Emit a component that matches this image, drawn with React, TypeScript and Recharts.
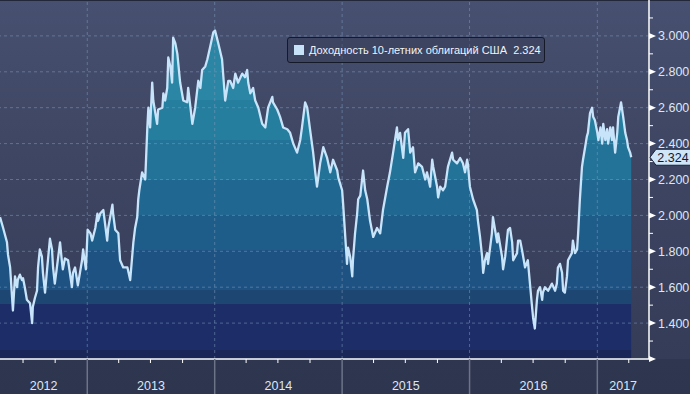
import { ComposedChart, Area, Line, XAxis, YAxis, ReferenceLine } from "recharts";

type Pt = [string, number];

// US 10y yield
const yields2012: Pt[] = [
  ["2012-04-26", 1.99], ["2012-05-05", 1.93], ["2012-05-16", 1.85], ["2012-05-19", 1.78],
  ["2012-05-25", 1.71], ["2012-06-02", 1.47], ["2012-06-08", 1.66], ["2012-06-14", 1.6],
  ["2012-06-16", 1.64], ["2012-06-22", 1.67], ["2012-06-28", 1.64], ["2012-07-01", 1.65],
  ["2012-07-06", 1.6], ["2012-07-12", 1.53], ["2012-07-21", 1.51], ["2012-07-27", 1.4],
  ["2012-07-29", 1.49], ["2012-08-04", 1.54], ["2012-08-10", 1.58], ["2012-08-13", 1.71],
  ["2012-08-18", 1.81], ["2012-08-24", 1.77], ["2012-08-27", 1.68], ["2012-09-02", 1.57],
  ["2012-09-07", 1.68], ["2012-09-16", 1.87], ["2012-09-22", 1.81], ["2012-09-25", 1.71],
  ["2012-09-30", 1.62], ["2012-10-06", 1.71], ["2012-10-15", 1.85], ["2012-10-20", 1.75],
  ["2012-10-23", 1.7], ["2012-10-29", 1.76], ["2012-11-07", 1.75], ["2012-11-18", 1.6],
  ["2012-11-21", 1.68], ["2012-11-27", 1.71], ["2012-12-05", 1.61], ["2012-12-17", 1.75],
  ["2012-12-20", 1.81], ["2012-12-28", 1.7],
];

const yields2013: Pt[] = [
  ["2013-01-02", 1.92], ["2013-01-10", 1.9], ["2013-01-15", 1.86], ["2013-01-24", 1.93],
  ["2013-01-30", 2.01], ["2013-02-01", 1.97], ["2013-02-07", 2.01], ["2013-02-16", 2.03],
  ["2013-02-27", 1.86], ["2013-03-02", 1.93], ["2013-03-14", 2.06], ["2013-03-16", 2.01],
  ["2013-03-22", 1.92], ["2013-03-31", 1.9], ["2013-04-05", 1.75], ["2013-04-14", 1.71],
  ["2013-04-26", 1.71], ["2013-05-04", 1.64], ["2013-05-13", 1.85], ["2013-05-18", 1.93],
  ["2013-05-24", 1.99], ["2013-05-27", 2.09], ["2013-05-30", 2.14], ["2013-06-07", 2.24],
  ["2013-06-16", 2.2], ["2013-06-22", 2.49], ["2013-06-25", 2.6], ["2013-06-30", 2.49],
  ["2013-07-06", 2.74], ["2013-07-09", 2.64], ["2013-07-20", 2.51], ["2013-07-23", 2.59],
  ["2013-08-04", 2.6], ["2013-08-07", 2.68], ["2013-08-12", 2.64], ["2013-08-18", 2.71],
  ["2013-08-21", 2.88], ["2013-08-27", 2.83], ["2013-09-01", 2.74], ["2013-09-04", 2.99],
  ["2013-09-10", 2.96], ["2013-09-16", 2.9], ["2013-09-24", 2.74], ["2013-10-03", 2.64],
  ["2013-10-14", 2.63], ["2013-10-17", 2.71], ["2013-10-29", 2.51], ["2013-11-06", 2.6],
  ["2013-11-15", 2.75], ["2013-11-21", 2.71], ["2013-11-26", 2.81], ["2013-12-05", 2.83],
  ["2013-12-11", 2.87], ["2013-12-19", 2.94], ["2013-12-28", 3.02],
];

const yields2014: Pt[] = [
  ["2014-01-02", 3.03], ["2014-01-11", 2.96], ["2014-01-22", 2.87], ["2014-01-31", 2.64],
  ["2014-02-09", 2.75], ["2014-02-14", 2.75], ["2014-02-23", 2.71], ["2014-03-01", 2.79],
  ["2014-03-09", 2.74], ["2014-03-21", 2.79], ["2014-03-29", 2.77], ["2014-04-04", 2.81],
  ["2014-04-07", 2.74], ["2014-04-13", 2.68], ["2014-04-21", 2.71], ["2014-04-27", 2.64],
  ["2014-05-06", 2.6], ["2014-05-17", 2.51], ["2014-05-26", 2.49], ["2014-06-03", 2.6],
  ["2014-06-15", 2.66], ["2014-06-17", 2.63], ["2014-06-29", 2.59], ["2014-07-07", 2.55],
  ["2014-07-16", 2.49], ["2014-07-28", 2.48], ["2014-08-05", 2.46], ["2014-08-14", 2.4],
  ["2014-08-25", 2.35], ["2014-09-03", 2.42], ["2014-09-08", 2.49], ["2014-09-17", 2.63],
  ["2014-09-23", 2.6], ["2014-10-01", 2.48], ["2014-10-10", 2.35], ["2014-10-16", 2.24],
  ["2014-10-21", 2.16], ["2014-10-30", 2.29], ["2014-11-08", 2.38], ["2014-11-19", 2.32],
  ["2014-11-28", 2.24], ["2014-12-06", 2.31], ["2014-12-18", 2.25], ["2014-12-21", 2.21],
];

const yields2015: Pt[] = [
  ["2015-01-01", 2.14], ["2015-01-04", 2.06], ["2015-01-10", 1.88], ["2015-01-15", 1.73],
  ["2015-01-18", 1.82], ["2015-01-24", 1.77], ["2015-01-30", 1.66], ["2015-02-01", 1.75],
  ["2015-02-07", 1.9], ["2015-02-13", 2.01], ["2015-02-16", 2.09], ["2015-02-22", 2.11],
  ["2015-03-02", 2.25], ["2015-03-08", 2.14], ["2015-03-14", 2.09], ["2015-03-22", 1.97],
  ["2015-03-31", 1.88], ["2015-04-11", 1.93], ["2015-04-20", 1.9], ["2015-04-28", 2.03],
  ["2015-05-10", 2.16], ["2015-05-18", 2.24], ["2015-05-27", 2.35], ["2015-06-07", 2.49],
  ["2015-06-10", 2.42], ["2015-06-16", 2.46], ["2015-06-25", 2.32], ["2015-06-30", 2.46],
  ["2015-07-09", 2.48], ["2015-07-15", 2.35], ["2015-07-23", 2.38], ["2015-07-29", 2.24],
  ["2015-08-07", 2.29], ["2015-08-18", 2.27], ["2015-08-27", 2.2], ["2015-09-01", 2.24],
  ["2015-09-10", 2.16], ["2015-09-16", 2.31], ["2015-09-19", 2.27], ["2015-09-30", 2.16],
  ["2015-10-03", 2.1], ["2015-10-09", 2.16], ["2015-10-17", 2.14], ["2015-10-23", 2.16],
  ["2015-10-31", 2.27], ["2015-11-12", 2.35], ["2015-11-15", 2.31], ["2015-11-26", 2.29],
  ["2015-12-05", 2.32], ["2015-12-13", 2.29], ["2015-12-19", 2.24], ["2015-12-25", 2.31],
  ["2015-12-27", 2.29],
];

const yields2016: Pt[] = [
  ["2016-01-02", 2.16], ["2016-01-11", 2.09], ["2016-01-22", 2.03], ["2016-01-25", 1.97],
  ["2016-01-31", 1.88], ["2016-02-06", 1.77], ["2016-02-09", 1.68], ["2016-02-14", 1.75],
  ["2016-02-20", 1.79], ["2016-02-23", 1.73], ["2016-03-05", 1.9], ["2016-03-08", 1.99],
  ["2016-03-14", 1.92], ["2016-03-20", 1.85], ["2016-03-23", 1.9], ["2016-04-03", 1.77],
  ["2016-04-06", 1.7], ["2016-04-12", 1.77], ["2016-04-20", 1.92], ["2016-04-26", 1.93],
  ["2016-05-02", 1.85], ["2016-05-05", 1.75], ["2016-05-16", 1.79], ["2016-05-19", 1.86],
  ["2016-05-25", 1.86], ["2016-05-30", 1.81], ["2016-06-08", 1.71], ["2016-06-16", 1.75],
  ["2016-06-22", 1.62], ["2016-06-28", 1.49], ["2016-07-01", 1.43], ["2016-07-06", 1.37],
  ["2016-07-12", 1.53], ["2016-07-15", 1.58], ["2016-07-21", 1.6], ["2016-07-27", 1.53],
  ["2016-07-29", 1.57], ["2016-08-04", 1.6], ["2016-08-13", 1.58], ["2016-08-24", 1.62],
  ["2016-09-02", 1.58], ["2016-09-07", 1.62], ["2016-09-10", 1.71], ["2016-09-16", 1.73],
  ["2016-09-22", 1.68], ["2016-09-25", 1.58], ["2016-09-30", 1.57], ["2016-10-06", 1.66],
  ["2016-10-09", 1.75], ["2016-10-20", 1.79], ["2016-10-23", 1.86], ["2016-10-29", 1.79],
  ["2016-11-04", 1.81], ["2016-11-07", 1.9], ["2016-11-12", 2.09], ["2016-11-18", 2.27],
  ["2016-11-21", 2.31], ["2016-11-27", 2.38], ["2016-12-02", 2.44], ["2016-12-05", 2.46],
  ["2016-12-11", 2.57], ["2016-12-17", 2.6], ["2016-12-20", 2.55], ["2016-12-25", 2.53],
];

const yields2017: Pt[] = [
  ["2017-01-01", 2.46], ["2017-01-04", 2.42], ["2017-01-10", 2.49], ["2017-01-15", 2.4],
  ["2017-01-18", 2.51], ["2017-01-24", 2.42], ["2017-01-29", 2.48], ["2017-02-01", 2.4],
  ["2017-02-07", 2.49], ["2017-02-12", 2.42], ["2017-02-15", 2.49], ["2017-02-21", 2.35],
  ["2017-02-27", 2.46], ["2017-03-02", 2.55], ["2017-03-07", 2.6], ["2017-03-10", 2.63],
  ["2017-03-16", 2.55], ["2017-03-22", 2.46], ["2017-03-27", 2.42], ["2017-03-30", 2.38],
  ["2017-04-05", 2.35], ["2017-04-08", 2.324],
];

const seriesName = "Доходность 10-летних облигаций США";
const years = [2012, 2013, 2014, 2015, 2016, 2017];
const rangeStart = "2012-04-26";
const rangeEnd = "2017-05-29";
const yTicks = [1.2, 1.3, 1.4, 1.5, 1.6, 1.7, 1.8, 1.9, 2.0, 2.1, 2.2, 2.3, 2.4, 2.5, 2.6, 2.7, 2.8, 2.9, 3.0, 3.1];
const yLabels = [1.4, 1.6, 1.8, 2.0, 2.2, 2.4, 2.6, 2.8, 3.0];

const ts = (d: string) => Date.parse(d + "T00:00:00Z");

const data = [...yields2012, ...yields2013, ...yields2014, ...yields2015, ...yields2016, ...yields2017].map(
  ([d, v]) => ({ t: ts(d), v })
);
const last = data[data.length - 1].v;

const xMin = ts(rangeStart);
const xMax = ts(rangeEnd);
const inRange = (t: number) => t > xMin && t < xMax;
const yearStarts = years.map((y) => Date.UTC(y, 0, 1)).filter(inRange);
const quarterTicks = years.flatMap((y) => [3, 6, 9].map((m) => Date.UTC(y, m, 1))).filter(inRange);
const yearLabels = years.map((y) => {
  const a = Math.max(Date.UTC(y, 0, 1), xMin);
  const b = Math.min(Date.UTC(y + 1, 0, 1), xMax);
  return { t: (a + b) / 2, year: y };
});
const xTicks = [...quarterTicks, ...yearStarts, ...yearLabels.map((l) => l.t)].sort((a, b) => a - b);

// stepped colour bands of the fill, by pixel height in the plot
const bands = [
  { to: 100, color: "#2a86a4" },
  { to: 140, color: "#267e9e" },
  { to: 180, color: "#237398" },
  { to: 215, color: "#206891" },
  { to: 250, color: "#1e5d89" },
  { to: 290, color: "#1d5282" },
  { to: 304, color: "#1d4672" },
  { to: 350, color: "#1c2d68" },
  { to: 359, color: "#1a2558" },
];

const FONT = '"Liberation Sans", Arial, sans-serif';

function XTick(props: any) {
  const { x, y, payload } = props;
  const v = payload.value;
  if (yearStarts.includes(v)) {
    return <line x1={x} x2={x} y1={y} y2={y + 35} stroke="#6c7488" strokeWidth={1.5} />;
  }
  const lab = yearLabels.find((l) => l.t === v);
  if (lab) {
    return (
      <text x={x} y={y + 31} textAnchor="middle" fill="#dce7f4" fontSize={12.5} fontFamily={FONT}>
        {lab.year}
      </text>
    );
  }
  return <line x1={x} x2={x} y1={y} y2={y + 4} stroke="#ffffff" />;
}

function YTick(props: any) {
  const { x, y, payload } = props;
  const v = payload.value;
  if (v === last) {
    return (
      <g>
        <path
          d={`M${x + 1},${y} L${x + 7},${y - 8} L${x + 42},${y - 8} L${x + 42},${y + 8} L${x + 7},${y + 8} Z`}
          fill="#cfe5f8"
          stroke="#1b2235"
        />
        <text x={x + 24} y={y + 4.5} textAnchor="middle" fill="#111a2e" fontSize={12.5} fontFamily={FONT}>
          {v.toFixed(3)}
        </text>
      </g>
    );
  }
  const major = Math.round(v * 10) % 2 === 0;
  const labelled = yLabels.some((l) => Math.abs(l - v) < 1e-6);
  return (
    <g>
      {major ? (
        <path d={`M${x},${y - 3} L${x + 7},${y} L${x},${y + 3} Z`} fill="#ffffff" />
      ) : (
        <line x1={x} x2={x + 4} y1={y} y2={y} stroke="#ffffff" />
      )}
      {labelled && (
        <text x={x + 9} y={y + 4.5} fill="#dce7f4" fontSize={12.5} fontFamily={FONT}>
          {v.toFixed(3)}
        </text>
      )}
    </g>
  );
}

export default function App() {
  return (
    <div
      style={{
        position: "relative",
        width: 690,
        height: 394,
        overflow: "hidden",
        background:
          "linear-gradient(to bottom, #485071 0px, #3e4663 150px, #343c58 359px, #2f3650 359px, #2e354f 394px)",
      }}
    >
      <style>{`body{margin:0}`}</style>
      <div style={{ position: "absolute", left: 0, top: 0, width: 690, height: 1, background: "#22273a" }} />
      <ComposedChart width={690} height={394} data={data} margin={{ top: 0, right: 0, bottom: 0, left: 0 }}>
        <defs>
          <linearGradient id="bands" gradientUnits="userSpaceOnUse" x1={0} y1={0} x2={0} y2={359}>
            {bands.map((b, i) => {
              const from = i === 0 ? 0 : bands[i - 1].to;
              return [
                <stop key={`a${i}`} offset={from / 359} stopColor={b.color} />,
                <stop key={`b${i}`} offset={b.to / 359} stopColor={b.color} />,
              ];
            })}
          </linearGradient>
        </defs>
        <XAxis
          dataKey="t"
          type="number"
          domain={[xMin, xMax]}
          ticks={xTicks}
          interval={0}
          tickSize={0}
          tickMargin={0}
          tickLine={false}
          axisLine={{ stroke: "#ffffff", strokeWidth: 1.5 }}
          height={35}
          tick={(p: any) => <XTick {...p} />}
        />
        <YAxis
          orientation="right"
          type="number"
          domain={[1.2, 3.2]}
          ticks={[...yTicks, last]}
          interval={0}
          tickSize={0}
          tickMargin={0}
          tickLine={false}
          axisLine={{ stroke: "#ffffff", strokeWidth: 1.5 }}
          width={41}
          tick={(p: any) => <YTick {...p} />}
        />
        <Area
          type="linear"
          dataKey="v"
          stroke="none"
          fill="url(#bands)"
          fillOpacity={1}
          dot={false}
          activeDot={false}
          isAnimationActive={false}
        />
        {yLabels.map((v) => (
          <ReferenceLine key={`h${v}`} y={v} stroke="#7a97b8" strokeOpacity={0.55} strokeDasharray="3 3" />
        ))}
        {yearStarts.map((t) => (
          <ReferenceLine key={`v${t}`} x={t} stroke="#7a97b8" strokeOpacity={0.55} strokeDasharray="3 3" />
        ))}
        <Line
          type="linear"
          dataKey="v"
          stroke="#c8e4fa"
          strokeWidth={2.3}
          strokeLinejoin="round"
          dot={false}
          activeDot={false}
          isAnimationActive={false}
        />
      </ComposedChart>
      <div
        style={{
          position: "absolute",
          left: 287,
          top: 37,
          width: 256,
          height: 24,
          border: "1px solid #151a29",
          borderRadius: 3,
          background: "rgba(52,59,86,0.5)",
          display: "flex",
          alignItems: "center",
          fontFamily: FONT,
          fontSize: 11,
          color: "#eef3fa",
        }}
      >
        <span style={{ width: 10, height: 10, background: "#c7e1f8", marginLeft: 6, marginRight: 5 }} />
        <span style={{ whiteSpace: "pre" }}>{`${seriesName}  ${last.toFixed(3)}`}</span>
      </div>
    </div>
  );
}
